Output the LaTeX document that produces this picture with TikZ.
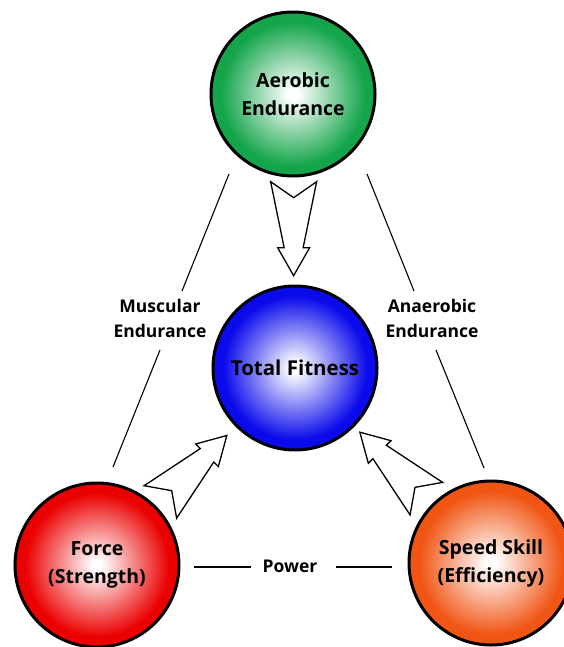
\documentclass[tikz,border=0pt]{standalone}
\usepackage{fontspec}
\setmainfont{Open Sans}
\usepackage{tikz}
\usetikzlibrary{calc}

\definecolor{aerogreen}{RGB}{20,165,75}
\definecolor{totblue}{RGB}{10,10,235}
\definecolor{forcered}{RGB}{235,0,0}
\definecolor{speedorange}{RGB}{240,85,20}

\pgfdeclareradialshading[ballcol]{fitball}{\pgfpoint{0bp}{0bp}}{%
  color(0bp)=(white); color(1.5bp)=(white); color(22bp)=(ballcol); color(25bp)=(ballcol); color(50bp)=(ballcol)}

\tikzset{
  ball/.style={circle, draw=black, line width=3pt, minimum size=164pt,
    align=center, font=\fontsize{19.5}{28}\selectfont\bfseries,
    /utils/exec={\colorlet{ballcol}{#1}}, shading=fitball},
  lbl/.style={align=center, font=\fontsize{17.5}{25}\selectfont\bfseries},
  fatarrow/.pic={
    \draw[line width=1.3pt, fill=white, line join=miter]
      (0,23) -- (16,0) -- (0,-23) -- (66,-9.5) -- (66,-16) -- (94,0)
      -- (66,16) -- (66,9.5) -- cycle;
  }
}

\begin{document}
\begin{tikzpicture}[x=1pt, y=-1pt]
        \useasboundingbox (0,0) rectangle (564,647);
        \begin{scope}
            \node[ball=aerogreen] (aer) at (293,94) {Aerobic\\Endurance};
            \node[ball=totblue, font=\fontsize{20.5}{28}\selectfont\bfseries] (tot) at (295,368) {Total Fitness};
            \node[ball=forcered] (force) at (97,565) {Force\\(Strength)};
            \node[ball=speedorange] (speed) at (491,563) {Speed Skill\\(Efficiency)};
        \end{scope}

        \node[lbl] (musc) at (160,318) {Muscular\\Endurance};
        \node[lbl] (anae) at (432,318) {Anaerobic\\Endurance};
        \node[lbl] (power) at (290,566) {Power};

        \coordinate (m1) at (229,174);
        \coordinate (m2) at (182,291);
        \coordinate (m3) at (160,350);
        \coordinate (m4) at (113,467);
        \coordinate (a1) at (367,174);
        \coordinate (a2) at (414,291);
        \coordinate (a3) at (436,350);
        \coordinate (a4) at (484,468);
        \coordinate (p1) at (194,567);
        \coordinate (p2) at (251,567);
        \coordinate (p3) at (336,567);
        \coordinate (p4) at (392,567);

        \begin{scope}[every edge/.style={draw,line width=1.1pt}]
            \path [-] (m1) edge (m2);
            \path [-] (m3) edge (m4);
            \path [-] (a1) edge (a2);
            \path [-] (a3) edge (a4);
            \path [-] (p1) edge (p2);
            \path [-] (p3) edge (p4);
        \end{scope}

        \pic[rotate=-90] at ($(aer)!0.32!(tot)$) {fatarrow};
        \pic[rotate=45] at ($(force)!0.32!(tot)$) {fatarrow};
        \pic[rotate=135] at ($(speed)!0.33!(tot)$) {fatarrow};
    \end{tikzpicture}
\end{document}
